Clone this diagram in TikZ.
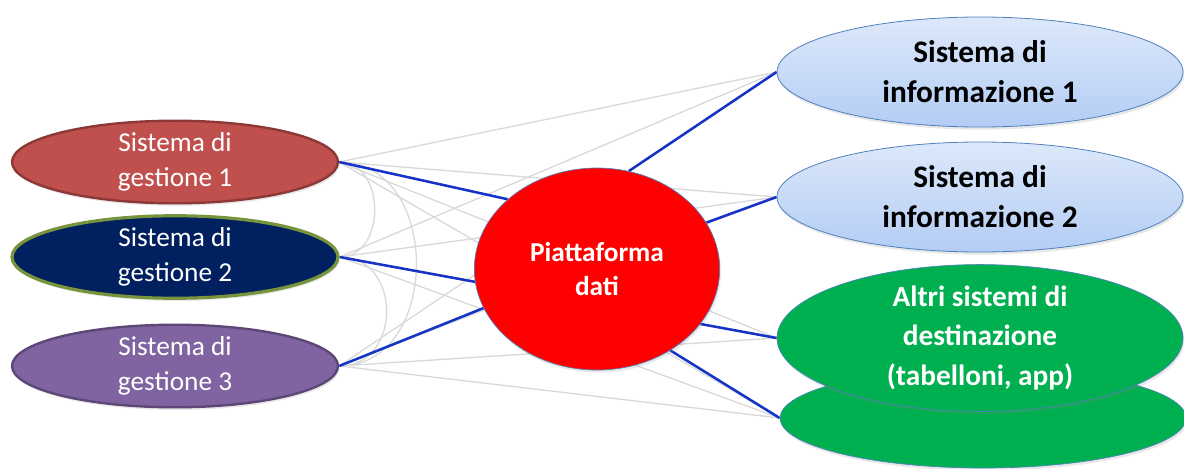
\documentclass[tikz,border=0pt]{standalone}
\usepackage{fontspec}
\setmainfont{Carlito}
\usetikzlibrary{shapes.geometric,shadows}
\pgfdeclarelayer{background}
\pgfsetlayers{background,main}
\definecolor{gOneFill}{HTML}{C0504D}
\definecolor{gOneLine}{HTML}{8C3836}
\definecolor{gTwoFill}{HTML}{002060}
\definecolor{gTwoLine}{HTML}{77933C}
\definecolor{gThreeFill}{HTML}{8064A2}
\definecolor{gThreeLine}{HTML}{5C4776}
\definecolor{infoTop}{HTML}{DDE8FA}
\definecolor{infoBot}{HTML}{B3CDF5}
\definecolor{infoLine}{HTML}{4F81BD}
\definecolor{greenFill}{HTML}{00B050}
\definecolor{blueLink}{HTML}{1633C8}
\definecolor{greyLink}{HTML}{D9D9D9}
\tikzset{
  sysbox/.style={ellipse, inner sep=0pt, align=center,
    drop shadow={opacity=0.18, shadow xshift=1pt, shadow yshift=-2pt}},
  leftsys/.style={sysbox, minimum width=244.5pt, minimum height=56pt,
    text=white, font=\fontsize{20.5}{26}\selectfont},
  infosys/.style={sysbox, minimum width=304.5pt, minimum height=82.5pt,
    draw=infoLine, line width=0.6pt, top color=infoTop, bottom color=infoBot,
    text=black, font=\bfseries\fontsize{23.5}{30}\selectfont},
  greensys/.style={sysbox, minimum width=304.5pt, draw=infoLine, line width=0.5pt,
    fill=greenFill, text=white, font=\bfseries\fontsize{22}{29.5}\selectfont},
  hub/.style={ellipse, inner sep=0pt, align=center, minimum width=184pt,
    minimum height=151.5pt, fill=red, draw=infoLine, line width=0.5pt,
    text=white, font=\bfseries\fontsize{20.5}{25.5}\selectfont,
    drop shadow={opacity=0.18, shadow xshift=1pt, shadow yshift=-2pt}},
  bluelink/.style={draw=blueLink, line width=1.9pt},
  greylink/.style={draw=greyLink, line width=1pt}
}
\begin{document}
\begin{tikzpicture}[x=0.75pt, y=-0.75pt]
\useasboundingbox (0,0) rectangle (1184,468);
% left systems
\node[leftsys, fill=gOneFill, draw=gOneLine, line width=1.8pt] (g1) at (175,162) {Sistema di\\gestione 1};
\node[leftsys, fill=gTwoFill, draw=gTwoLine, line width=2.4pt] (g2) at (175,257) {Sistema di\\gestione 2};
\node[leftsys, fill=gThreeFill, draw=gThreeLine, line width=1.8pt] (g3) at (175,366) {Sistema di\\gestione 3};
% hub
\node[hub] (p) at (597,269) {Piattaforma\\dati};
% right systems
\node[infosys] (i1) at (980,72) {Sistema di\\informazione 1};
\node[infosys] (i2) at (980,197) {Sistema di\\informazione 2};
\node[greensys, minimum height=75pt] (d2) at (983,418) {};
\node[greensys, minimum height=92pt] (d1) at (980,338) {Altri sistemi di\\destinazione\\(tabelloni, app)};
% links
\begin{pgfonlayer}{background}
  \foreach \s in {g1,g2,g3}{
    \foreach \t in {i1,i2,d1,d2}{
      \draw[greylink] (\s.east) -- (\t.west);
    }
  }
  \draw[greylink] (g1.east) .. controls +(47,0) and +(47,0) .. (g2.east);
  \draw[greylink] (g2.east) .. controls +(63,0) and +(63,0) .. (g3.east);
  \draw[greylink] (g1.east) .. controls +(103,0) and +(103,0) .. (g3.east);
  \draw[bluelink] (g1.east) -- (p.142);
  \draw[bluelink] (g2.east) -- (p.186);
  \draw[bluelink] (g3.east) -- (p.199);
  \draw[bluelink] (p.72) -- (i1.west);
  \draw[bluelink] (p.23) -- (i2.west);
  \draw[bluelink] (p.332) -- (d1.west);
  \draw[bluelink] (p.312) -- (d2.west);
\end{pgfonlayer}
\end{tikzpicture}
\end{document}
